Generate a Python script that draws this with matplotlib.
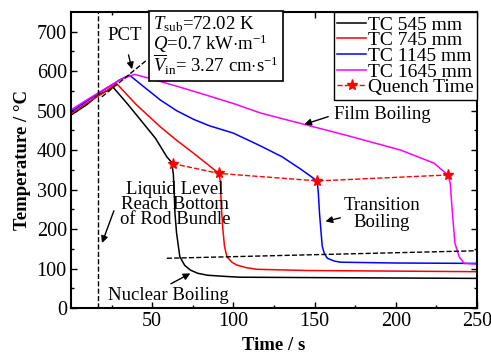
import matplotlib
matplotlib.use("Agg")
import matplotlib.pyplot as plt

plt.rcParams["font.family"] = ["Liberation Serif", "DejaVu Serif"]
plt.rcParams["mathtext.fontset"] = "custom"
plt.rcParams["mathtext.rm"] = "Liberation Serif"
plt.rcParams["mathtext.it"] = "Liberation Serif:italic"

# thermocouple readings (time in s, temperature in C)
t_545 = [0, 10, 16.5, 26, 35, 44.5, 52, 59, 62, 63, 63.5, 64, 65, 67, 70, 73.5, 78, 84, 95, 104, 150, 250]
T_545 = [489, 516, 539, 559, 516, 468, 430, 383, 369, 340, 300, 240, 190, 130, 108, 96, 88, 83, 80, 78, 77, 75]

t_745 = [0, 10, 20, 28, 40, 55, 65, 75.5, 85, 91, 92, 92.5, 93.5, 94.5, 96, 99, 102, 108, 114.6, 145, 250]
T_745 = [492, 520, 545, 569, 516, 459, 425, 392, 361, 341, 320, 260, 200, 156, 130, 116, 109, 102, 98, 95, 92]

t_1145 = [0, 10, 20, 30, 36, 45, 55, 65, 75.5, 85, 100, 117, 130, 141, 151.6, 152.3, 153, 154, 154.7, 156, 157.8, 162, 166, 200, 250]
T_1145 = [497, 525, 552, 578, 590, 560, 527, 500, 478, 462, 443, 410, 383, 353, 322, 290, 240, 190, 156, 138, 126, 119, 116, 114, 113]

t_1645 = [0, 10, 20, 30, 39, 50, 65, 79.6, 100, 116.7, 141, 170, 203, 223.5, 232, 233.5, 235, 236.4, 239, 242, 250]
T_1645 = [502, 528, 553, 578, 592, 580, 562, 544, 518, 494, 468, 437, 400, 367, 337, 316, 231, 164, 130, 113, 111]

quench_t = [62.5, 91, 151.6, 232]
quench_T = [366, 341, 322, 337]

nb_line_t = [59, 250]
nb_line_T = [126, 145]

pct_line_t = [19, 46]
pct_line_T = [535, 626]

fig = plt.figure(figsize=(4.91, 3.53), dpi=100)
ax = fig.add_axes([0.1446, 0.1275, 0.827, 0.8385])

ax.plot(t_545, T_545, color="black", lw=1.1, label="TC 545 mm")
ax.plot(t_745, T_745, color="red", lw=1.1, label="TC 745 mm")
ax.plot(t_1145, T_1145, color="blue", lw=1.1, label="TC 1145 mm")
ax.plot(t_1645, T_1645, color="magenta", lw=1.1, label="TC 1645 mm")
ax.plot(quench_t, quench_T, color="red", ls="--", lw=1.0, marker="*",
        ms=8, label="Quench Time")

ax.plot(nb_line_t, nb_line_T, color="black", ls="--", lw=1.0)
ax.plot(pct_line_t, pct_line_T, color="black", ls="--", lw=1.0)
ax.axvline(16.5, color="black", ls="--", lw=1.0)

ax.set_xlim(0, 250)
ax.set_ylim(0, 750)
ax.set_xticks([50, 100, 150, 200, 250])
ax.set_xticks([25, 75, 125, 175, 225], minor=True)
ax.set_yticks([0, 100, 200, 300, 400, 500, 600, 700])
ax.set_yticks(range(50, 750, 100), minor=True)
ax.tick_params(which="both", direction="in", top=True, right=True, labelsize=14.5)
ax.tick_params(which="major", length=4, width=1, pad=3)
ax.tick_params(which="minor", length=2.5, width=1)
for s in ax.spines.values():
    s.set_linewidth(1.5)

ax.set_xlabel("Time / s", fontsize=13.5, fontweight="bold", labelpad=4)
ax.set_ylabel("Temperature / \u00b0C", fontsize=13.5, fontweight="bold", labelpad=4)

ax.legend(loc="upper right", borderaxespad=0, fancybox=False, edgecolor="black",
          framealpha=1, fontsize=14, handlelength=1.45, handletextpad=0.1,
          labelspacing=-0.1, borderpad=0.2)

ax.text(50.5, 743, "$T_{\\rm sub}$=72.02 K\n$Q$=0.7 kW$\\cdot$m$^{-1}$\n"
        "$\\overline{V}_{\\rm in}$= 3.27 cm$\\cdot$s$^{-1}$",
        fontsize=13.5, va="top", ha="left", linespacing=0.88,
        bbox=dict(boxstyle="square,pad=0.2", fc="white", ec="black", lw=1.2))

arw = dict(arrowstyle="-|>", color="black", lw=1.0, mutation_scale=10)
ax.text(33, 690, "PCT", fontsize=13.5, ha="center", va="center")
ax.annotate("", xy=(38, 598), xytext=(35, 648), arrowprops=arw)

ax.text(162, 490, "Film Boiling", fontsize=13.5, ha="left", va="center")
ax.annotate("", xy=(142, 463), xytext=(160, 487), arrowprops=arw)

ax.text(191.5, 238, "Transition\nBoiling", fontsize=13.5, ha="center", va="center",
        linespacing=1.05)
ax.annotate("", xy=(155, 218), xytext=(167.5, 230), arrowprops=arw)

ax.text(64, 262, "Liquid Level\nReach Bottom\nof Rod Bundle", fontsize=13.5,
        ha="center", va="center", linespacing=0.85)
ax.annotate("", xy=(18.5, 158), xytext=(27, 253), arrowprops=arw)

ax.text(60, 32, "Nuclear Boiling", fontsize=13.5, ha="center", va="center")
ax.annotate("", xy=(75, 91), xytext=(60, 58), arrowprops=arw)

fig.savefig("out.png", dpi=100)
